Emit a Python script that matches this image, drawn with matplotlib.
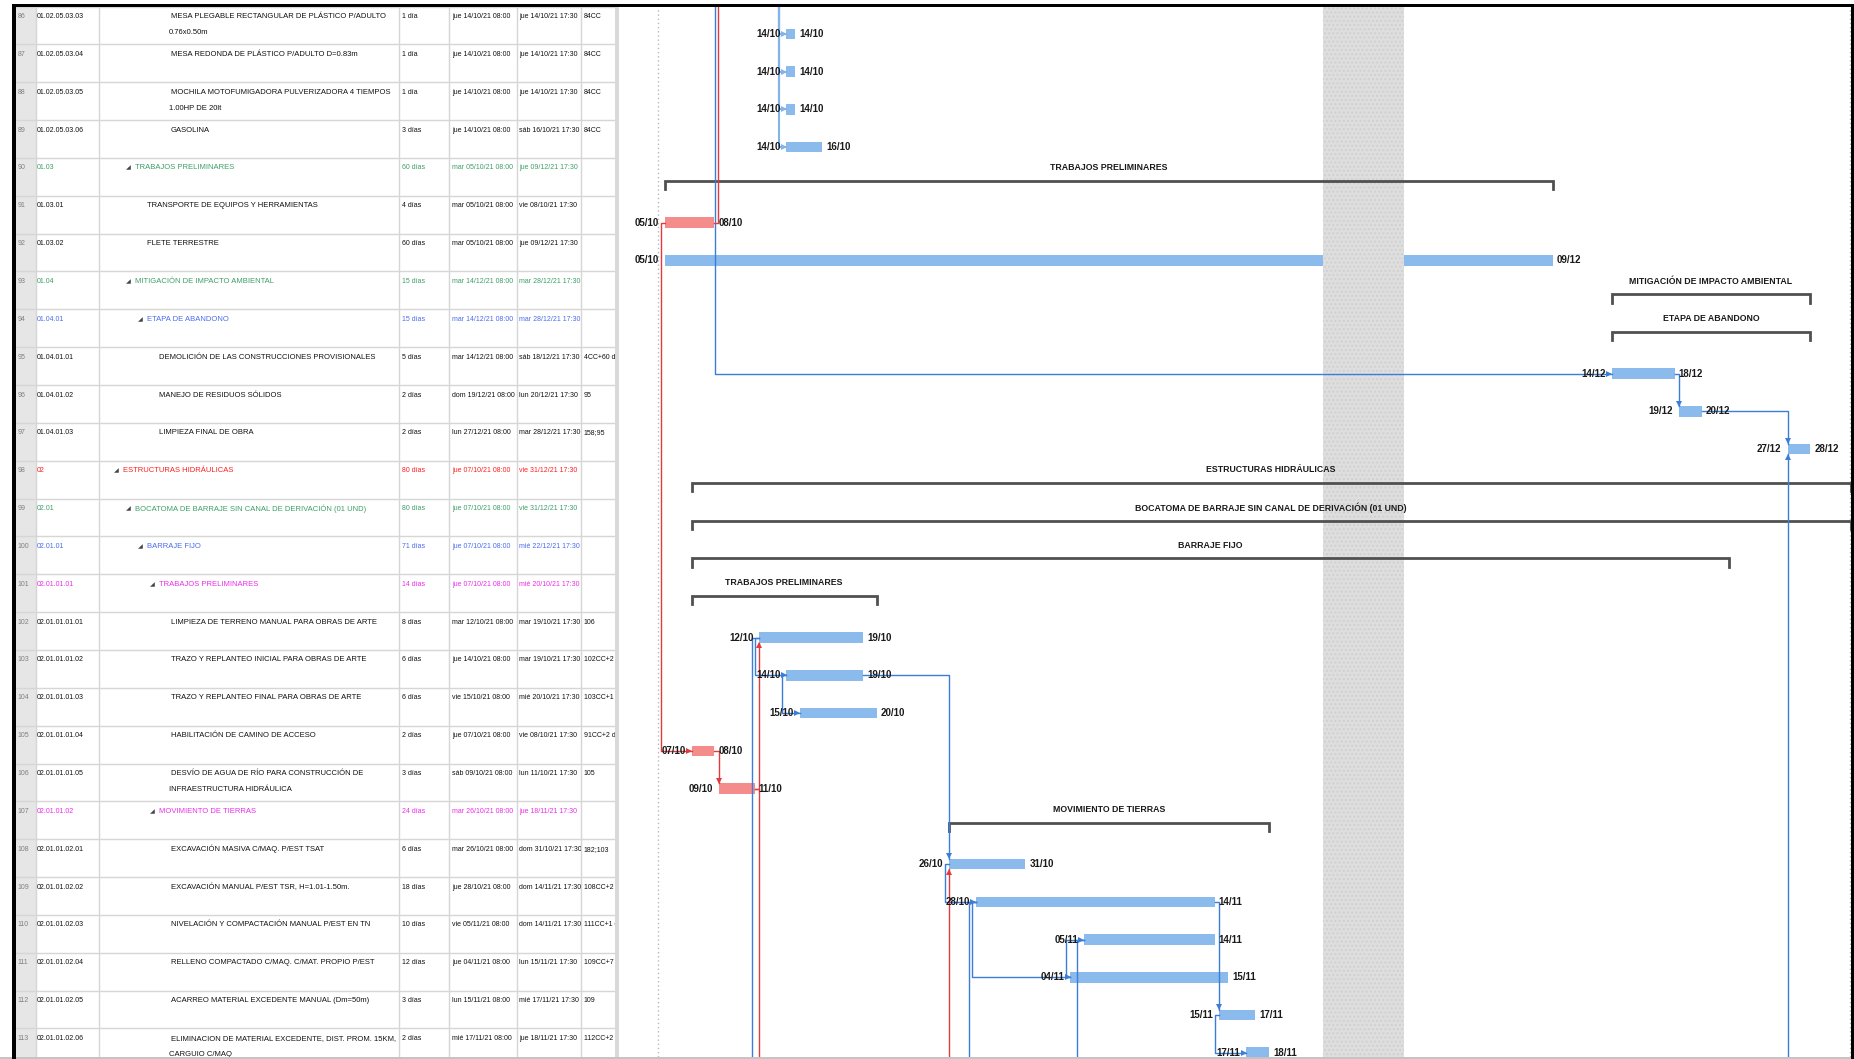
import matplotlib
matplotlib.use("Agg")
import matplotlib.pyplot as plt
import matplotlib.dates as mdates
from matplotlib import font_manager
from matplotlib.patches import Rectangle
from matplotlib.transforms import Bbox, TransformedBbox
from datetime import datetime, timedelta

# ---------------- datos de la tabla (filas 86 a 113) ----------------
ids = list(range(86, 114))
edt = ["01.02.05.03.03", "01.02.05.03.04", "01.02.05.03.05", "01.02.05.03.06",
       "01.03", "01.03.01", "01.03.02", "01.04", "01.04.01", "01.04.01.01",
       "01.04.01.02", "01.04.01.03", "02", "02.01", "02.01.01", "02.01.01.01",
       "02.01.01.01.01", "02.01.01.01.02", "02.01.01.01.03", "02.01.01.01.04",
       "02.01.01.01.05", "02.01.01.02", "02.01.01.02.01", "02.01.01.02.02",
       "02.01.01.02.03", "02.01.01.02.04", "02.01.01.02.05", "02.01.01.02.06"]
nombres = ["MESA PLEGABLE RECTANGULAR DE PLÁSTICO P/ADULTO\n0.76x0.50m",
           "MESA REDONDA DE PLÁSTICO P/ADULTO D=0.83m",
           "MOCHILA MOTOFUMIGADORA PULVERIZADORA 4 TIEMPOS\n1.00HP DE 20lt",
           "GASOLINA",
           "TRABAJOS PRELIMINARES",
           "TRANSPORTE DE EQUIPOS Y HERRAMIENTAS",
           "FLETE TERRESTRE",
           "MITIGACIÓN DE IMPACTO AMBIENTAL",
           "ETAPA DE ABANDONO",
           "DEMOLICIÓN DE LAS CONSTRUCCIONES PROVISIONALES",
           "MANEJO DE RESIDUOS SÓLIDOS",
           "LIMPIEZA FINAL DE OBRA",
           "ESTRUCTURAS HIDRÁULICAS",
           "BOCATOMA DE BARRAJE SIN CANAL DE DERIVACIÓN (01 UND)",
           "BARRAJE FIJO",
           "TRABAJOS PRELIMINARES",
           "LIMPIEZA DE TERRENO MANUAL PARA OBRAS DE ARTE",
           "TRAZO Y REPLANTEO INICIAL PARA OBRAS DE ARTE",
           "TRAZO Y REPLANTEO FINAL PARA OBRAS DE ARTE",
           "HABILITACIÓN DE CAMINO DE ACCESO",
           "DESVÍO DE AGUA DE RÍO PARA CONSTRUCCIÓN DE\nINFRAESTRUCTURA HIDRÁULICA",
           "MOVIMIENTO DE TIERRAS",
           "EXCAVACIÓN MASIVA C/MAQ. P/EST TSAT",
           "EXCAVACIÓN MANUAL P/EST TSR, H=1.01-1.50m.",
           "NIVELACIÓN Y COMPACTACIÓN MANUAL P/EST EN TN",
           "RELLENO COMPACTADO C/MAQ. C/MAT. PROPIO P/EST",
           "ACARREO MATERIAL EXCEDENTE MANUAL (Dm=50m)",
           "ELIMINACION DE MATERIAL EXCEDENTE, DIST. PROM. 15KM,\nCARGUIO C/MAQ"]
duraciones = ["1 día", "1 día", "1 día", "3 días", "60 días", "4 días", "60 días",
              "15 días", "15 días", "5 días", "2 días", "2 días", "80 días", "80 días",
              "71 días", "14 días", "8 días", "6 días", "6 días", "2 días", "3 días",
              "24 días", "6 días", "18 días", "10 días", "12 días", "3 días", "2 días"]
comienzos = ["jue 14/10/21 08:00", "jue 14/10/21 08:00", "jue 14/10/21 08:00",
             "jue 14/10/21 08:00", "mar 05/10/21 08:00", "mar 05/10/21 08:00",
             "mar 05/10/21 08:00", "mar 14/12/21 08:00", "mar 14/12/21 08:00",
             "mar 14/12/21 08:00", "dom 19/12/21 08:00", "lun 27/12/21 08:00",
             "jue 07/10/21 08:00", "jue 07/10/21 08:00", "jue 07/10/21 08:00",
             "jue 07/10/21 08:00", "mar 12/10/21 08:00", "jue 14/10/21 08:00",
             "vie 15/10/21 08:00", "jue 07/10/21 08:00", "sáb 09/10/21 08:00",
             "mar 26/10/21 08:00", "mar 26/10/21 08:00", "jue 28/10/21 08:00",
             "vie 05/11/21 08:00", "jue 04/11/21 08:00", "lun 15/11/21 08:00",
             "mié 17/11/21 08:00"]
fines = ["jue 14/10/21 17:30", "jue 14/10/21 17:30", "jue 14/10/21 17:30",
         "sáb 16/10/21 17:30", "jue 09/12/21 17:30", "vie 08/10/21 17:30",
         "jue 09/12/21 17:30", "mar 28/12/21 17:30", "mar 28/12/21 17:30",
         "sáb 18/12/21 17:30", "lun 20/12/21 17:30", "mar 28/12/21 17:30",
         "vie 31/12/21 17:30", "vie 31/12/21 17:30", "mié 22/12/21 17:30",
         "mié 20/10/21 17:30", "mar 19/10/21 17:30", "mar 19/10/21 17:30",
         "mié 20/10/21 17:30", "vie 08/10/21 17:30", "lun 11/10/21 17:30",
         "jue 18/11/21 17:30", "dom 31/10/21 17:30", "dom 14/11/21 17:30",
         "dom 14/11/21 17:30", "lun 15/11/21 17:30", "mié 17/11/21 17:30",
         "jue 18/11/21 17:30"]
predecesoras = ["84CC", "84CC", "84CC", "84CC", "", "", "", "", "", "4CC+60 días",
                "95", "158;95", "", "", "", "", "106", "102CC+2 días", "103CC+1 día",
                "91CC+2 días", "105", "", "182;103", "108CC+2 días", "111CC+1 día",
                "109CC+7 días", "109", "112CC+2 días"]
tipos = ["tarea"] * 4 + ["resumen", "critica", "tarea", "resumen", "resumen",
         "tarea", "tarea", "tarea", "resumen", "resumen", "resumen", "resumen",
         "tarea", "tarea", "tarea", "critica", "critica", "resumen"] + ["tarea"] * 6
color_fila = ["negro"] * 4 + ["verde", "negro", "negro", "verde", "azul", "negro",
              "negro", "negro", "rojo", "verde", "azul", "magenta", "negro", "negro",
              "negro", "negro", "negro", "magenta"] + ["negro"] * 6

# vínculos entre tareas visibles (predecesora, sucesora, tipo)
vinculos = [(95, 96, "FC"), (96, 97, "FC"), (106, 102, "FC"), (102, 103, "CC"),
            (103, 104, "CC"), (91, 105, "CC"), (105, 106, "FC"), (103, 108, "FC"),
            (108, 109, "CC"), (109, 111, "CC"), (111, 110, "CC"), (109, 112, "FC"),
            (112, 113, "CC")]
# vínculos con tareas fuera de la vista
desde_arriba = [(86, "2021-10-13 18:30"), (87, "2021-10-13 18:30"),
                (88, "2021-10-13 18:30"), (89, "2021-10-13 18:30"),
                (95, "2021-10-09 00:40")]
hacia_arriba = [91]
desde_abajo = [(97, False), (108, True)]
hacia_abajo = [(106, "FC"), (102, "CC"), (109, "CC"), (110, "CC")]

periodo_no_laborable = ("2021-11-23 00:00", "2021-11-29 00:00")
lineas_proyecto = ["2021-10-04 21:00", "2021-12-31 22:30"]

# ---------------- estilo ----------------
disponibles = {f.name for f in font_manager.fontManager.ttflist}
if "Liberation Sans Narrow" in disponibles:
    fuente, esc = "Liberation Sans Narrow", 1.0
else:
    fuente, esc = "Liberation Sans", 0.82

COLORES = {"negro": "#111111", "verde": "#3d9f68", "azul": "#4b6cf0",
           "rojo": "#ff1f1f", "magenta": "#ec2cec"}
AZUL_BARRA = "#8bbbec"
ROSA_BARRA = "#f58c8c"
AZUL_LINEA = "#3b7dd8"
ROJO_LINEA = "#e23a3e"
GRIS_REJILLA = "#d6d6d6"

W, H = 1854, 1059
fig = plt.figure(figsize=(W / 100, H / 100), dpi=100)
fig.patch.set_facecolor("white")


def caja(x0, y0, x1, y1):
    return [x0 / W, 1 - y1 / H, (x1 - x0) / W, (y1 - y0) / H]


def fecha(s):
    return datetime.strptime(s.split(" ", 1)[1], "%d/%m/%y %H:%M")


n = len(ids)

# ---------------- tabla ----------------
ARRIBA, ABAJO = 6.5, 1057
FILA_T = 37.85
cols = [15.7, 35.5, 99.3, 398.5, 449.3, 516.7, 580.6, 615]
ax_t = fig.add_axes(caja(cols[0], ARRIBA, cols[-1], ABAJO))
ax_t.set_xlim(cols[0], cols[-1])
ax_t.set_ylim((ABAJO - ARRIBA) / FILA_T, 0)
ax_t.axis("off")

ax_t.add_patch(Rectangle((cols[0], 0), cols[1] - cols[0], n + 1,
                         color="#e6e6e6", lw=0, zorder=0))
for k in range(n + 1):
    ax_t.axhline(k, color=GRIS_REJILLA, lw=1, zorder=1)
for c in cols[1:-1]:
    ax_t.axvline(c, color=GRIS_REJILLA, lw=1, zorder=1)


def celda(x, y, s, c0, c1, i, **kw):
    t = ax_t.text(x, y, s, va="center", ha="left", zorder=3, **kw)
    t.set_clip_box(TransformedBbox(Bbox([[c0, i], [c1, i + 1]]), ax_t.transData))
    t.set_clip_on(True)
    return t


tam_t = 6.7 * esc      # nombres
tam_f = 6.1 * esc      # columnas de fechas y números
for i in range(n):
    col = COLORES[color_fila[i]]
    y1 = i + 0.265
    celda(17.5, y1, str(ids[i]), cols[0], cols[1], i, color="#808080",
          family=fuente, fontsize=tam_f)
    celda(cols[1] + 1.5, y1, edt[i], cols[1], cols[2], i, color=col,
          family=fuente, fontsize=tam_f)
    nivel = len(edt[i].split("."))
    xn = 111.6 + 11.85 * nivel
    if tipos[i] == "resumen":
        ax_t.text(xn - 9.5, y1, "◢", va="center", ha="left", fontsize=4.5,
                  family="DejaVu Sans", color="#444444", zorder=3)
    for k, linea in enumerate(nombres[i].split("\n")):
        celda(xn - 2 * k, y1 + 0.42 * k, linea, cols[2], cols[3], i,
              color=col, family=fuente, fontsize=tam_t)
    celda(cols[3] + 3.5, y1, duraciones[i], cols[3], cols[4], i, color=col,
          family=fuente, fontsize=tam_f)
    celda(cols[4] + 2.5, y1, comienzos[i], cols[4], cols[5], i, color=col,
          family=fuente, fontsize=tam_f)
    celda(cols[5] + 2.5, y1, fines[i], cols[5], cols[6], i, color=col,
          family=fuente, fontsize=tam_f)
    celda(cols[6] + 3.0, y1, predecesoras[i], cols[6], cols[7], i, color=col,
          family=fuente, fontsize=tam_f)

# ---------------- diagrama de Gantt ----------------
G0, G1 = 619, 1851
PX_DIA = 13.531
X_ORIGEN = 605.9          # px del 01/10/21 00:00
FILA_G, Y0_G = 37.73, 7.6
t0 = mdates.date2num(datetime(2021, 10, 1))
ax_g = fig.add_axes(caja(G0, ARRIBA, G1, ABAJO))
ax_g.set_xlim(t0 + (G0 - X_ORIGEN) / PX_DIA, t0 + (G1 - X_ORIGEN) / PX_DIA)
y_sup = (ARRIBA - Y0_G) / FILA_G
y_inf = (ABAJO - Y0_G) / FILA_G
ax_g.set_ylim(y_inf, y_sup)
ax_g.axis("off")
dx = 1 / PX_DIA
dy = 1 / FILA_G

x_ini = [mdates.date2num(fecha(s)) for s in comienzos]
x_fin = [mdates.date2num(fecha(s).replace(hour=0, minute=0) + timedelta(days=1))
         for s in fines]
YB, HB = 0.70, 0.28

for s in lineas_proyecto:
    ax_g.axvline(mdates.datestr2num(s), color="#b8b8b8", lw=1,
                 linestyle=(0, (1, 2)), zorder=1)

ax_g.axvspan(mdates.datestr2num(periodo_no_laborable[0]),
             mdates.datestr2num(periodo_no_laborable[1]),
             facecolor="#dedede", edgecolor="#d0d0d0", hatch="....", lw=0, zorder=3)

for i in range(n):
    if tipos[i] == "resumen":
        yb = i + 0.60
        ax_g.plot([x_ini[i], x_ini[i], x_fin[i], x_fin[i]],
                  [yb + 0.22, yb, yb, yb + 0.22], color="#505050", lw=2,
                  solid_joinstyle="miter", zorder=4)
        ax_g.text((x_ini[i] + x_fin[i]) / 2, i + 0.25, nombres[i], ha="center",
                  va="center", family=fuente, weight="bold", fontsize=7.7 * esc,
                  color="#1a1a1a", zorder=6)
    else:
        color = ROSA_BARRA if tipos[i] == "critica" else AZUL_BARRA
        ax_g.barh(i + YB, x_fin[i] - x_ini[i], left=x_ini[i], height=HB,
                  color=color, lw=0, zorder=2)
        ax_g.text(x_ini[i] - 6 * dx, i + YB, fecha(comienzos[i]).strftime("%d/%m"),
                  ha="right", va="center", family=fuente, weight="bold",
                  fontsize=8.6 * esc, color="#1a1a1a", zorder=6)
        ax_g.text(x_fin[i] + 4 * dx, i + YB, fecha(fines[i]).strftime("%d/%m"),
                  ha="left", va="center", family=fuente, weight="bold",
                  fontsize=8.6 * esc, color="#1a1a1a", zorder=6)


def flecha(x, y, m, color):
    ax_g.plot([x], [y], marker=m, ms=4, color=color, mew=0, zorder=5)


def trazo(xs, ys, color, lw=1.0):
    ax_g.plot(xs, ys, color=color, lw=lw, zorder=4)


for p, s, tipo in vinculos:
    a, b = p - 86, s - 86
    color = ROJO_LINEA if tipos[a] == "critica" else AZUL_LINEA
    ya, yb = a + YB, b + YB
    if tipo == "FC":
        x2 = x_ini[b]
        if b > a:
            yt = yb - HB / 2
            trazo([x_fin[a], x2, x2], [ya, ya, yt], color)
            flecha(x2, yt - 2.5 * dy, "v", color)
        else:
            yt = yb + HB / 2
            trazo([x_fin[a], x2, x2], [ya, ya, yt], color)
            flecha(x2, yt + 2.5 * dy, "^", color)
    else:
        xv = min(x_ini[a], x_ini[b]) - 4 * dx
        trazo([x_ini[a], xv, xv, x_ini[b]], [ya, ya, yb, yb], color)
        flecha(x_ini[b] - 2.5 * dx, yb, ">", color)

for r, s in desde_arriba:
    b = r - 86
    xv = mdates.datestr2num(s)
    color = "#82b4ea" if r < 90 else AZUL_LINEA
    trazo([xv, xv, x_ini[b]], [y_sup, b + YB, b + YB], color,
          lw=1.5 if r < 90 else 1.0)
    flecha(x_ini[b] - 2.5 * dx, b + YB, ">", color)

for r in hacia_arriba:
    a = r - 86
    xv = x_fin[a] + 4 * dx
    trazo([x_fin[a], xv, xv], [a + YB, a + YB, y_sup], ROJO_LINEA)

for r, critico in desde_abajo:
    b = r - 86
    color = ROJO_LINEA if critico else AZUL_LINEA
    yt = b + YB + HB / 2
    trazo([x_ini[b], x_ini[b]], [y_inf, yt], color)
    flecha(x_ini[b], yt + 2.5 * dy, "^", color)

for r, tipo in hacia_abajo:
    a = r - 86
    color = ROJO_LINEA if tipos[a] == "critica" else AZUL_LINEA
    if tipo == "FC":
        xa, xv = x_fin[a], x_fin[a] + 4 * dx
    else:
        xa, xv = x_ini[a], x_ini[a] - 7 * dx
    trazo([xa, xv, xv], [a + YB, a + YB, y_inf], color)

# ---------------- marco de la ventana ----------------
ax_m = fig.add_axes([0, 0, 1, 1], zorder=10)
ax_m.set_xlim(0, W)
ax_m.set_ylim(H, 0)
ax_m.axis("off")
ax_m.patch.set_alpha(0)
ax_m.add_patch(Rectangle((615, ARRIBA), 4, H - ARRIBA, color="#d9d9d9", lw=0))
ax_m.add_patch(Rectangle((0, ABAJO), W, 2, color="#c4c4c4", lw=0))
ax_m.add_patch(Rectangle((11.7, 4.3), W - 11.7, 3, color="black", lw=0))
ax_m.add_patch(Rectangle((11.7, 4.3), 4, H, color="black", lw=0))
ax_m.add_patch(Rectangle((1851.5, 4.3), 3, H, color="black", lw=0))

fig.savefig("out.png", dpi=100)
